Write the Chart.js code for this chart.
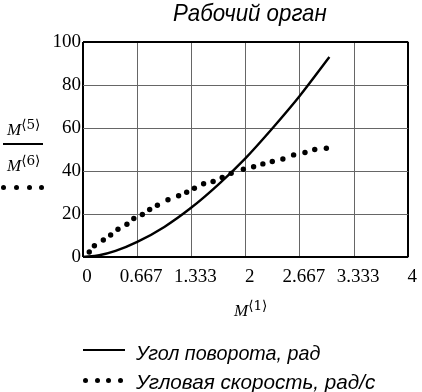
<!DOCTYPE html>
<html>
<head>
<meta charset="utf-8">
<script src="https://cdn.jsdelivr.net/npm/chart.js@4/dist/chart.umd.min.js"></script>
<style>
  html, body { margin:0; padding:0; background:#fff; }
  #wrap { position:relative; width:422px; height:392px; overflow:hidden; background:#fff; }
  #c { position:absolute; left:0; top:0; }
  .t { position:absolute; white-space:nowrap; color:#000; transform-origin:0 50%; line-height:1; }
  .gost { font-family:"Liberation Sans","DejaVu Sans",sans-serif; font-style:italic; }
  .mc { font-family:"Liberation Serif","DejaVu Serif",serif; }
  .mc i { font-style:italic; }
  .mc sup { font-size:0.8em; vertical-align:0.45em; font-family:"DejaVu Serif",serif; }
  .dot { position:absolute; width:5px; height:5px; border-radius:50%; background:#000; }
  .bar { position:absolute; background:#000; }
</style>
</head>
<body>
<div id="wrap">
  <canvas id="c" width="422" height="392"></canvas>
</div>
<script>
// ---- data ----
const titleText = "Рабочий орган";
const xTickLabels = ["0", "0.667", "1.333", "2", "2.667", "3.333", "4"];
const yTickValues = [0, 20, 40, 60, 80, 100];
const seriesNames = ["Угол поворота, рад", "Угловая скорость, рад/с"];

// Solid curve: angle of rotation
const angleX = [0, 0.2, 0.4, 0.667, 1.0, 1.333, 1.667, 2.0, 2.333, 2.667, 3.03];
const angleY = [0, 0.8, 2.8, 7, 14, 23, 33.8, 46, 60, 75, 93];

// Dotted series: angular velocity
const speedX = [0.077, 0.14, 0.25, 0.34, 0.43, 0.54, 0.625, 0.73, 0.82, 0.915, 1.045, 1.176, 1.275, 1.37, 1.483, 1.6, 1.712, 1.822, 1.972, 2.098, 2.212, 2.328, 2.458, 2.59, 2.73, 2.85, 2.993];
const speedY = [2.3, 5.2, 7.9, 10.2, 12.9, 15.2, 17.9, 19.8, 22.1, 24.1, 26.6, 28.5, 30.1, 32, 34.1, 35.1, 37, 38.9, 40.8, 42, 43.3, 44.4, 45.6, 47.5, 48.6, 50, 50.6];

const xTickValues = xTickLabels.map(Number);

const frameIdx = (ctx, n) => ctx.index === 0 || ctx.index === n - 1;

const chart = new Chart(document.getElementById('c'), {
  type: 'scatter',
  data: {
    datasets: [
      {
        label: seriesNames[0],
        data: angleX.map((x, i) => ({x, y: angleY[i]})),
        showLine: true,
        borderColor: '#000',
        borderWidth: 2.4,
        pointRadius: 0,
        cubicInterpolationMode: 'monotone',
        fill: false
      },
      {
        label: seriesNames[1],
        data: speedX.map((x, i) => ({x, y: speedY[i]})),
        showLine: false,
        pointRadius: 2.7,
        pointBackgroundColor: '#000',
        pointBorderColor: '#000',
        pointBorderWidth: 0
      }
    ]
  },
  options: {
    responsive: false,
    devicePixelRatio: 1,
    animation: false,
    layout: { padding: { left: 0, top: 42, right: 9, bottom: 105 } },
    plugins: { legend: { display: false }, title: { display: false }, tooltip: { enabled: false } },
    scales: {
      x: {
        type: 'linear', min: 0, max: 4,
        afterBuildTicks: s => { s.ticks = xTickValues.map(v => ({value: v})); },
        afterFit: s => { s.height = 30; },
        ticks: {
          callback: (v, i) => xTickLabels[i],
          font: { family: 'Liberation Serif', size: 19 },
          color: '#000', padding: 9, labelOffset: 4, maxRotation: 0, autoSkip: false
        },
        grid: {
          drawTicks: false,
          color: ctx => frameIdx(ctx, xTickValues.length) ? '#000' : '#666',
          lineWidth: ctx => frameIdx(ctx, xTickValues.length) ? 2 : 1
        },
        border: { display: false }
      },
      y: {
        type: 'linear', min: 0, max: 100,
        afterBuildTicks: s => { s.ticks = yTickValues.map(v => ({value: v})); },
        afterFit: s => { s.width = 83; },
        ticks: {
          font: { family: 'Liberation Serif', size: 19 },
          color: '#000', padding: 2
        },
        grid: {
          drawTicks: false,
          color: ctx => frameIdx(ctx, yTickValues.length) ? '#000' : '#666',
          lineWidth: ctx => frameIdx(ctx, yTickValues.length) ? 2 : 1
        },
        border: { display: false }
      }
    }
  },
  plugins: [{
    id: 'bg',
    beforeDraw: c => { const g = c.ctx; g.save(); g.fillStyle = '#fff'; g.fillRect(0, 0, c.width, c.height); g.restore(); }
  }]
});

// ---- overlays: title, axis labels, legend ----
const wrap = document.getElementById('wrap');
function addText(html, cls, left, cy, size, targetW) {
  const el = document.createElement('div');
  el.className = 't ' + cls;
  el.style.fontSize = size + 'px';
  el.innerHTML = html;
  wrap.appendChild(el);
  const w = el.offsetWidth, h = el.offsetHeight;
  el.style.left = left + 'px';
  el.style.top = (cy - h / 2) + 'px';
  if (targetW) el.style.transform = 'scaleX(' + (targetW / w) + ')';
  return el;
}
function addDot(x, y) {
  const d = document.createElement('div');
  d.className = 'dot';
  d.style.left = (x - 2.5) + 'px';
  d.style.top = (y - 2.5) + 'px';
  wrap.appendChild(d);
}
function addBar(x, y, w, h) {
  const b = document.createElement('div');
  b.className = 'bar';
  b.style.left = x + 'px'; b.style.top = y + 'px';
  b.style.width = w + 'px'; b.style.height = h + 'px';
  wrap.appendChild(b);
}

addText(titleText, 'gost', 173, 13, 24, 154);

// y label: M<5> / M<6> with dotted sample
addText('<i>M</i><sup>⟨5⟩</sup>', 'mc', 7, 128, 17);
addBar(3, 143, 40, 2);
addText('<i>M</i><sup>⟨6⟩</sup>', 'mc', 7, 164, 17);
[3, 16, 29, 41].forEach(x => addDot(x, 187));

// x label
addText('<i>M</i><sup>⟨1⟩</sup>', 'mc', 234, 309, 17);

// legend
addBar(83, 349, 42, 2);
addText(seriesNames[0], 'gost', 136, 352, 21, 184);
[85, 97, 108, 120].forEach(x => addDot(x, 380));
addText(seriesNames[1], 'gost', 136, 381, 21, 239);
</script>
</body>
</html>
